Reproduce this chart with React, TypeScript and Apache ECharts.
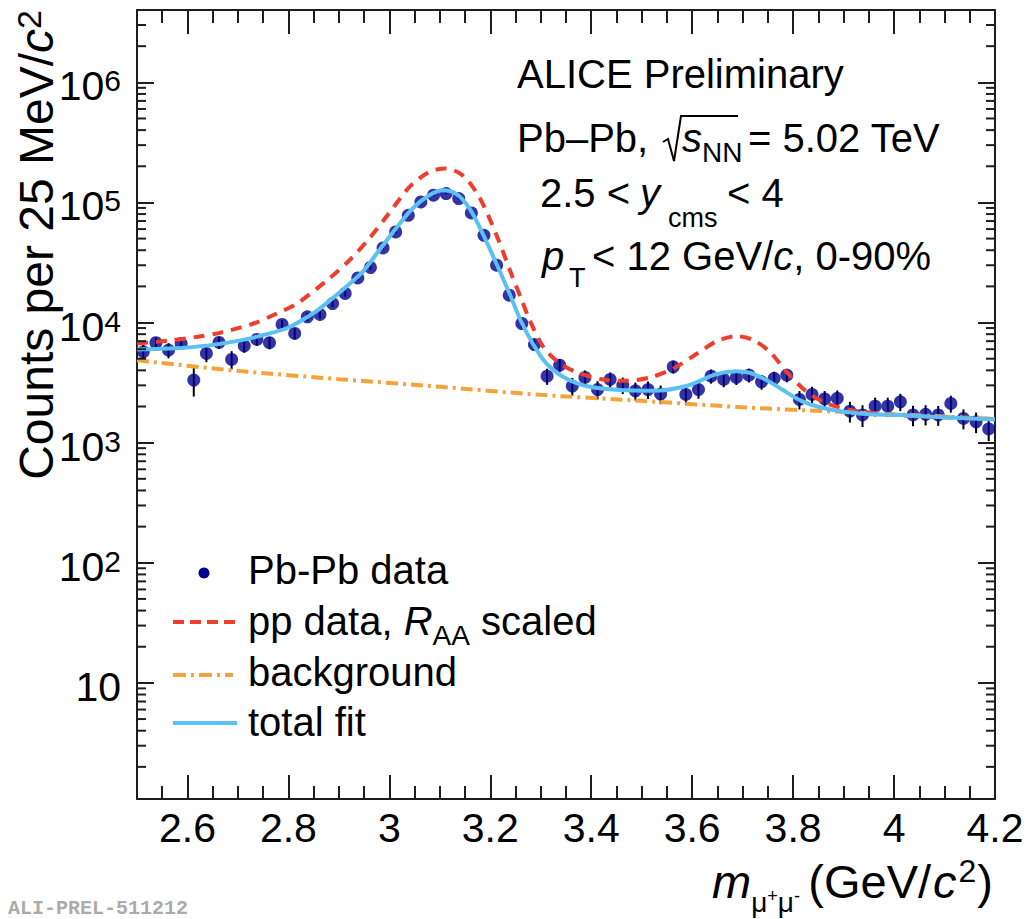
import React, { useEffect, useRef } from "react";
import * as echarts from "echarts";

// ---------------- data ----------------
const massBinCenters = [
  2.5125, 2.5375, 2.5625, 2.5875, 2.6125, 2.6375, 2.6625, 2.6875, 2.7125, 2.7375,
  2.7625, 2.7875, 2.8125, 2.8375, 2.8625, 2.8875, 2.9125, 2.9375, 2.9625, 2.9875,
  3.0125, 3.0375, 3.0625, 3.0875, 3.1125, 3.1375, 3.1625, 3.1875, 3.2125, 3.2375,
  3.2625, 3.2875, 3.3125, 3.3375, 3.3625, 3.3875, 3.4125, 3.4375, 3.4625, 3.4875,
  3.5125, 3.5375, 3.5625, 3.5875, 3.6125, 3.6375, 3.6625, 3.6875, 3.7125, 3.7375,
  3.7625, 3.7875, 3.8125, 3.8375, 3.8625, 3.8875, 3.9125, 3.9375, 3.9625, 3.9875,
  4.0125, 4.0375, 4.0625, 4.0875, 4.1125, 4.1375, 4.1625, 4.1875,
];
const pbpbCounts = [
  5700, 6790, 5890, 6700, 3320, 5530, 6830, 4930, 6400, 7230,
  6790, 9640, 8110, 11150, 11670, 14400, 17460, 23540, 28730, 41800,
  56800, 78200, 100900, 114800, 118600, 107700, 81800, 53300, 30040, 16900,
  9820, 6560, 3580, 4420, 2960, 3490, 2770, 3360, 3010, 2700,
  2770, 2540, 4280, 2520, 2770, 3580, 3360, 3490, 3650, 3210,
  3430, 3650, 2290, 2520, 2310, 2340, 1830, 1700, 2010, 2010,
  2190, 1700, 1720, 1700, 2120, 1590, 1490, 1300,
];
const pbpbErrors = [
  800, 750, 850, 750, 900, 850, 800, 850, 800, 800,
  800, 850, 850, 900, 900, 950, 1000, 1100, 1200, 1300,
  1400, 1500, 1600, 1700, 1700, 1600, 1500, 1300, 1100, 1000,
  800, 650, 550, 550, 500, 500, 480, 480, 470, 460,
  460, 450, 520, 450, 450, 480, 470, 470, 480, 450,
  460, 470, 400, 400, 380, 380, 360, 350, 360, 360,
  360, 330, 330, 320, 340, 300, 290, 270,
];

const fitMass = [
  2.5, 2.55, 2.6, 2.65, 2.7, 2.75, 2.8, 2.85, 2.88, 2.914, 2.947, 2.98, 3.013, 3.046,
  3.079, 3.106, 3.132, 3.159, 3.185, 3.212, 3.238, 3.26, 3.284, 3.311, 3.344, 3.39,
  3.456, 3.522, 3.588, 3.648, 3.688, 3.714, 3.747, 3.78, 3.813, 3.846, 3.879, 3.945,
  4.012, 4.078, 4.2,
];
const fitCounts = [
  5960, 6040, 6210, 6520, 7040, 7860, 9100, 12000, 15000, 19800, 26400, 40000, 60700, 89000,
  114800, 126300, 118500, 89000, 55100, 31000, 17470, 10450, 6700, 4570, 3540, 2960,
  2740, 2700, 2960, 3720, 3940, 3820, 3320, 2740, 2260, 2010, 1870, 1730,
  1700, 1640, 1560,
];

const ppMass = [
  2.5, 2.56, 2.62, 2.664, 2.731, 2.777, 2.817, 2.881, 2.921, 2.96, 3.0, 3.04, 3.079,
  3.112, 3.145, 3.178, 3.211, 3.244, 3.262, 3.278, 3.305, 3.338, 3.377, 3.424, 3.47,
  3.517, 3.563, 3.61, 3.649, 3.688, 3.721, 3.754, 3.787, 3.827, 3.867, 3.913, 3.979,
  4.045, 4.111, 4.2,
];
const ppCounts = [
  6700, 7050, 7610, 8210, 9820, 11890, 14400, 23300, 33000, 50000, 82000, 134600, 179400,
  191500, 168400, 111100, 55100, 24000, 15500, 10480, 6280, 4570, 3780, 3360, 3270,
  3490, 4150, 5530, 7000, 7710, 7140, 5700, 3890, 2650, 2120, 1870, 1730,
  1660, 1620, 1570,
];

const bkgMass = [2.5, 2.7, 2.9, 3.1, 3.3, 3.5, 3.7, 3.9, 4.1, 4.2];
const bkgCounts = [4850, 3960, 3380, 2920, 2500, 2230, 1970, 1800, 1650, 1570];

const xRange = [2.5, 4.2];
const yRange = [1.08, 4e6];

// ---------------- styles ----------------
const FONT = '"Liberation Sans", Helvetica, Arial, sans-serif';
const MONO = '"Liberation Mono", "DejaVu Sans Mono", monospace';
const AXIS = "#1e1e1e";
const C_DATA = "#00008f";
const C_PP = "#f03c2a";
const C_BKG = "#f4a23a";
const C_FIT = "#5cc0f2";

let measureCtx: CanvasRenderingContext2D | null = null;
function textWidth(t: string, fs: number, italic = false): number {
  if (!measureCtx) measureCtx = document.createElement("canvas").getContext("2d");
  if (!measureCtx) return t.length * fs * 0.55;
  measureCtx.font = `${italic ? "italic " : ""}${fs}px ${FONT}`;
  return measureCtx.measureText(t).width;
}

type Frag = { t: string; fs?: number; it?: boolean; x?: number; base?: number; gap?: number };

function textEl(x: number, base: number, t: string, fs: number, it = false, fill = "#000") {
  return {
    type: "text",
    x,
    y: base - 0.3465 * fs,
    silent: true,
    style: {
      text: t,
      fontSize: fs,
      fontFamily: FONT,
      fontStyle: it ? "italic" : "normal",
      fill,
      align: "left",
      verticalAlign: "middle",
      textAlign: "left",
      textVerticalAlign: "middle",
    },
  };
}

function row(x0: number, base: number, frags: Frag[]) {
  const out: any[] = [];
  let x = x0;
  for (const f of frags) {
    const fs = f.fs ?? 40;
    if (f.x !== undefined) x = f.x;
    if (f.gap) x += f.gap;
    out.push(textEl(x, f.base ?? base, f.t, fs, !!f.it));
    x += textWidth(f.t, fs, !!f.it);
  }
  return out;
}

function rowRight(xEnd: number, base: number, frags: Frag[]) {
  let total = 0;
  for (const f of frags) total += textWidth(f.t, f.fs ?? 40, !!f.it) + (f.gap ?? 0);
  return row(xEnd - total, base, frags);
}

function buildOption() {
  const minorY: number[][] = [];
  for (let e = 0; e <= 6; e++) {
    for (let k = 2; k <= 9; k++) {
      const v = k * Math.pow(10, e);
      if (v > yRange[0] && v < yRange[1]) minorY.push([xRange[0], v]);
    }
  }

  const lineTick = { color: AXIS, width: 2 };

  const xAxisBase = {
    type: "value",
    min: xRange[0],
    max: xRange[1],
    splitNumber: 8,
    minInterval: 0.2,
    maxInterval: 0.2,
    axisLine: { show: true, onZero: false, lineStyle: lineTick },
    axisTick: { show: true, inside: true, length: 24, lineStyle: lineTick },
    minorTick: { show: true, splitNumber: 4, length: 13, lineStyle: lineTick },
    splitLine: { show: false },
    minorSplitLine: { show: false },
  };

  const yAxisBase = {
    type: "log",
    logBase: 10,
    min: yRange[0],
    max: yRange[1],
    axisLine: { show: true, onZero: false, lineStyle: lineTick },
    axisTick: { show: true, inside: true, length: 17, lineStyle: lineTick },
    minorTick: { show: false },
    splitLine: { show: false },
    minorSplitLine: { show: false },
  };

  const graphics: any[] = [];

  // y-axis title (rotated)
  graphics.push({
    type: "text",
    x: 36,
    y: 10,
    rotation: Math.PI / 2,
    silent: true,
    style: {
      text: "{n|Counts per 25 MeV/}{i|c}{s|2}",
      align: "right",
      verticalAlign: "middle",
      textAlign: "right",
      textVerticalAlign: "middle",
      rich: {
        n: { fontSize: 48, lineHeight: 48, fontFamily: FONT, fill: "#000" },
        i: { fontSize: 48, lineHeight: 48, fontFamily: FONT, fontStyle: "italic", fill: "#000" },
        s: { fontSize: 34, lineHeight: 36, fontFamily: FONT, fill: "#000", verticalAlign: "top" },
      },
    },
  });

  // x-axis title
  graphics.push(
    ...row(712, 898, [
      { t: "m", it: true, fs: 47 },
      { t: "\u03bc", fs: 28, base: 912 },
      { t: "+", fs: 18, base: 902 },
      { t: "\u03bc", fs: 28, base: 912 },
      { t: "-", fs: 18, base: 902 },
    ])
  );
  graphics.push(
    ...rowRight(993, 898, [
      { t: "(GeV/", fs: 47 },
      { t: "c", it: true, fs: 47, gap: 2 },
      { t: "2", fs: 32, base: 882, gap: 2 },
      { t: ")", fs: 47, gap: 1 },
    ])
  );

  // info text
  graphics.push(...row(517, 88, [{ t: "ALICE Preliminary" }]));
  graphics.push(...row(517, 152, [{ t: "Pb\u2013Pb," }]));
  graphics.push({
    type: "polyline",
    silent: true,
    shape: { points: [[663, 142], [668, 139], [674, 161], [681, 116], [738, 116]] },
    style: { stroke: "#000", lineWidth: 2, fill: null },
  });
  graphics.push(...row(682, 152, [{ t: "s", it: true }, { t: "NN", fs: 28, base: 162 }]));
  graphics.push(...row(748, 152, [{ t: "= 5.02 TeV" }]));
  graphics.push(...row(540, 207, [{ t: "2.5 <" }]));
  graphics.push(...row(640, 207, [{ t: "y", it: true }]));
  graphics.push(...row(668, 227, [{ t: "cms", fs: 27 }]));
  graphics.push(...row(727, 207, [{ t: "< 4" }]));
  graphics.push(...row(542, 270, [{ t: "p", it: true }]));
  graphics.push(...row(569, 287, [{ t: "T", fs: 27 }]));
  graphics.push(...row(592, 270, [{ t: "< 12 GeV/" }, { t: "c", it: true }, { t: ", 0-90%" }]));

  // legend
  graphics.push({
    type: "circle",
    silent: true,
    shape: { cx: 204, cy: 573, r: 5.5 },
    style: { fill: C_DATA },
  });
  graphics.push({
    type: "line",
    silent: true,
    shape: { x1: 173, y1: 622, x2: 235, y2: 622 },
    style: { stroke: C_PP, lineWidth: 4, lineDash: [11, 6] },
  });
  graphics.push({
    type: "line",
    silent: true,
    shape: { x1: 173, y1: 675, x2: 233, y2: 675 },
    style: { stroke: C_BKG, lineWidth: 4, lineDash: [13, 5, 3, 5] },
  });
  graphics.push({
    type: "line",
    silent: true,
    shape: { x1: 173, y1: 723, x2: 237, y2: 723 },
    style: { stroke: C_FIT, lineWidth: 4 },
  });
  graphics.push(...row(248, 584, [{ t: "Pb-Pb data" }]));
  graphics.push(
    ...row(248, 635, [
      { t: "pp data, " },
      { t: "R", it: true },
      { t: "AA", fs: 28, base: 645 },
      { t: " scaled" },
    ])
  );
  graphics.push(...row(248, 686, [{ t: "background" }]));
  graphics.push(...row(248, 736, [{ t: "total fit" }]));

  // watermark
  graphics.push({
    type: "text",
    x: 8,
    y: 898,
    silent: true,
    style: {
      text: "ALI-PREL-511212",
      fontSize: 20,
      fontWeight: "bold",
      fontFamily: MONO,
      fill: "#ababab",
      align: "left",
      verticalAlign: "top",
      textAlign: "left",
      textVerticalAlign: "top",
    },
  });

  return {
    animation: false,
    backgroundColor: "#ffffff",
    grid: { left: 137, top: 10, width: 858, height: 789, containLabel: false, outerBoundsMode: "none" },
    xAxis: [
      {
        ...xAxisBase,
        position: "bottom",
        axisLabel: {
          show: true,
          margin: 8,
          fontSize: 41,
          fontFamily: FONT,
          color: "#000",
          interval: 0,
          showMinLabel: false,
          showMaxLabel: true,
          formatter: (v: number) =>
            Math.abs(v - xRange[0]) < 1e-6 ? "" : String(Math.round(v * 10) / 10),
        },
      },
      { ...xAxisBase, position: "top", axisLabel: { show: false } },
    ],
    yAxis: [
      {
        ...yAxisBase,
        position: "left",
        axisLabel: {
          show: true,
          margin: 16,
          padding: [8, 0, 0, 0],
          showMinLabel: false,
          showMaxLabel: false,
          formatter: (v: number) => {
            const e = Math.log10(v);
            const n = Math.round(e);
            if (Math.abs(e - n) > 1e-6) return "";
            if (n === 1) return "{b|10}";
            return `{b|10}{e|${n}}`;
          },
          rich: {
            b: { fontSize: 41, lineHeight: 41, fontFamily: FONT, color: "#000" },
            e: { fontSize: 30, lineHeight: 24, fontFamily: FONT, color: "#000", verticalAlign: "top" },
          },
        },
      },
      { ...yAxisBase, position: "right", axisLabel: { show: false } },
    ],
    series: [
      {
        type: "custom",
        name: "Pb-Pb stat. uncertainty",
        xAxisIndex: 0,
        yAxisIndex: 0,
        silent: true,
        z: 2,
        data: massBinCenters.map((m, i) => [m, pbpbCounts[i] - pbpbErrors[i], pbpbCounts[i] + pbpbErrors[i]]),
        encode: { x: 0, y: [1, 2] },
        renderItem: (_params: any, api: any) => {
          const lo = api.coord([api.value(0), api.value(1)]);
          const hi = api.coord([api.value(0), api.value(2)]);
          return {
            type: "line",
            shape: { x1: lo[0], y1: lo[1], x2: hi[0], y2: hi[1] },
            style: { stroke: "#000", lineWidth: 2 },
          };
        },
      },
      {
        type: "scatter",
        name: "Pb-Pb data",
        xAxisIndex: 0,
        yAxisIndex: 0,
        silent: true,
        z: 3,
        symbol: "circle",
        symbolSize: 13,
        itemStyle: { color: C_DATA },
        data: massBinCenters.map((m, i) => [m, pbpbCounts[i]]),
      },
      {
        type: "line",
        name: "background",
        xAxisIndex: 0,
        yAxisIndex: 0,
        silent: true,
        z: 4,
        smooth: 0.3,
        showSymbol: false,
        symbol: "none",
        lineStyle: { color: C_BKG, width: 4, type: [12, 5, 3, 5] },
        data: bkgMass.map((m, i) => [m, bkgCounts[i]]),
      },
      {
        type: "line",
        name: "pp data, RAA scaled",
        xAxisIndex: 0,
        yAxisIndex: 0,
        silent: true,
        z: 5,
        smooth: 0.3,
        showSymbol: false,
        symbol: "none",
        lineStyle: { color: C_PP, width: 4, type: [11, 8] },
        data: ppMass.map((m, i) => [m, ppCounts[i]]),
      },
      {
        type: "line",
        name: "total fit",
        xAxisIndex: 0,
        yAxisIndex: 0,
        silent: true,
        z: 6,
        smooth: 0.3,
        showSymbol: false,
        symbol: "none",
        lineStyle: { color: C_FIT, width: 4 },
        data: fitMass.map((m, i) => [m, fitCounts[i]]),
      },
      {
        type: "custom",
        name: "y minor ticks",
        xAxisIndex: 0,
        yAxisIndex: 0,
        silent: true,
        clip: false,
        z: 10,
        data: minorY,
        renderItem: (params: any, api: any) => {
          const cs = params.coordSys;
          const p = api.coord([api.value(0), api.value(1)]);
          return {
            type: "group",
            children: [
              {
                type: "line",
                shape: { x1: cs.x, y1: p[1], x2: cs.x + 9, y2: p[1] },
                style: { stroke: AXIS, lineWidth: 2 },
              },
              {
                type: "line",
                shape: { x1: cs.x + cs.width - 9, y1: p[1], x2: cs.x + cs.width, y2: p[1] },
                style: { stroke: AXIS, lineWidth: 2 },
              },
            ],
          };
        },
      },
    ],
    graphic: { elements: graphics },
  };
}

export default function App() {
  const ref = useRef<HTMLDivElement>(null);
  useEffect(() => {
    if (!ref.current) return;
    const chart = echarts.init(ref.current, null, { renderer: "svg" });
    chart.setOption(buildOption() as any);
    return () => chart.dispose();
  }, []);
  return (
    <div
      ref={ref}
      style={{ position: "absolute", left: 0, top: 0, width: 1028, height: 919, background: "#fff" }}
    />
  );
}
